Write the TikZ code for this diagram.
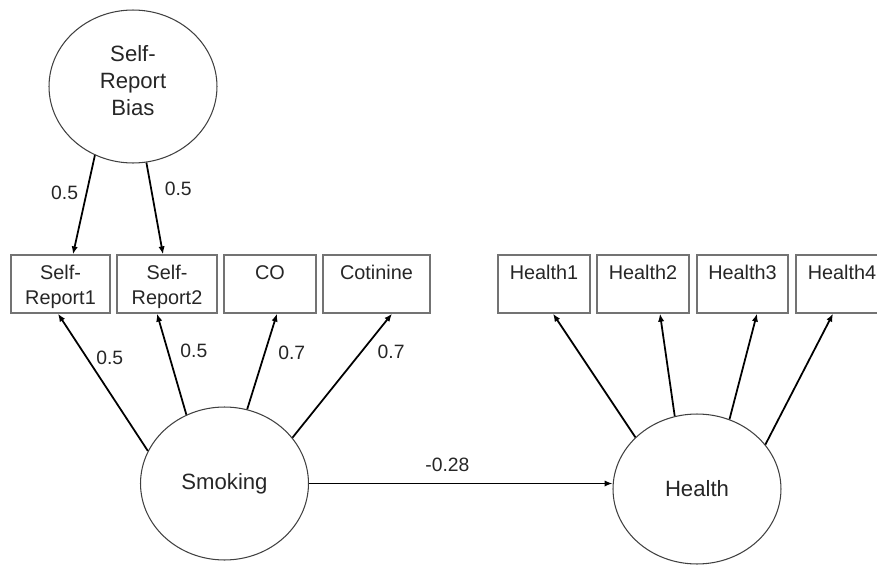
\documentclass[tikz,border=0pt]{standalone}
\usepackage{fontspec}
\setmainfont{Liberation Sans}
\usetikzlibrary{arrows.meta, shapes.geometric}

\begin{document}
\begin{tikzpicture}[x=0.02cm, y=-0.02cm,
    latente/.style={ellipse, draw=black!75, line width=0.6pt, inner sep=0pt,
        minimum width=3.36cm, minimum height=3.06cm, align=center,
        font=\fontsize{12.6}{15.6}\selectfont, text=black!85},
    medida/.style={rectangle, draw=black!55, line width=0.8pt, inner sep=0pt,
        minimum height=1.16cm, text width=1.5cm, align=center,
        text height=0.48cm, text depth=0.68cm,
        font=\fontsize{11.3}{14.7}\selectfont, text=black!85},
    flecha/.style={-{Latex[length=4.5pt,width=3.6pt]}, line width=1pt},
    peso/.style={inner sep=0pt, font=\fontsize{11}{13}\selectfont, text=black!85}]
    \useasboundingbox (0,0) rectangle (877,565);

    % Variables latentes
    \node[latente, text depth=0.24cm] (sesgo) at (133,86.5) {Self-\\Report\\Bias};
    \node[latente] (fumar) at (224.5,483.5) {Smoking};
    \node[latente, minimum height=3cm] (salud) at (697,489) {Health};

    % Indicadores de Smoking
    \node[medida, minimum width=1.98cm] (sr1) at (60.5,284) {Self-\\Report1};
    \node[medida, minimum width=2cm]    (sr2) at (167,284)  {Self-\\Report2};
    \node[medida, minimum width=1.84cm] (co)  at (270,284)  {CO};
    \node[medida, minimum width=2.14cm] (cot) at (376.5,284) {Cotinine};

    % Indicadores de Health
    \node[medida, minimum width=1.84cm] (h1) at (544,284)   {Health1};
    \node[medida, minimum width=1.84cm] (h2) at (643,284)   {Health2};
    \node[medida, minimum width=1.82cm] (h3) at (742.5,284) {Health3};
    \node[medida, minimum width=1.84cm] (h4) at (842,284)   {Health4};

    % Cargas del sesgo
    \draw[flecha] (sesgo.241) -- ([xshift=0.25cm]sr1.north)
        node[peso, pos=.38, xshift=-0.44cm] (w1) {0.5};
    \draw[flecha] (sesgo.280.4) -- ([xshift=-0.08cm]sr2.north)
        node[peso, pos=.29, xshift=0.54cm] (w2) {0.5};

    % Cargas de Smoking
    \draw[flecha] (fumar.157.6) -- ([xshift=-0.05cm]sr1.south)
        node[peso, pos=.68, xshift=0.46cm] (w3) {0.5};
    \draw[flecha] (fumar.119.3) -- ([xshift=-0.2cm]sr2.south)
        node[peso, pos=.63, xshift=0.52cm] (w4) {0.5};
    \draw[flecha] (fumar.73.6) -- ([xshift=0.14cm]co.south)
        node[peso, pos=.59, xshift=0.54cm] (w5) {0.7};
    \draw[flecha] (fumar.34.2) -- ([xshift=0.31cm]cot.south)
        node[peso, pos=.69, xshift=0.6cm] (w6) {0.7};

    % Cargas de Health
    \draw[flecha] (salud.140) -- ([xshift=0.18cm]h1.south);
    \draw[flecha] (salud.107) -- ([xshift=0.34cm]h2.south);
    \draw[flecha] (salud.65.2) -- ([xshift=0.29cm]h3.south);
    \draw[flecha] (salud.33.5) -- ([xshift=-0.18cm]h4.south);

    % Efecto estructural
    \draw[flecha] (fumar.east) -- (fumar.east -| salud.west)
        node[peso, pos=.456, yshift=0.38cm] (w7) {-0.28};
\end{tikzpicture}
\end{document}
